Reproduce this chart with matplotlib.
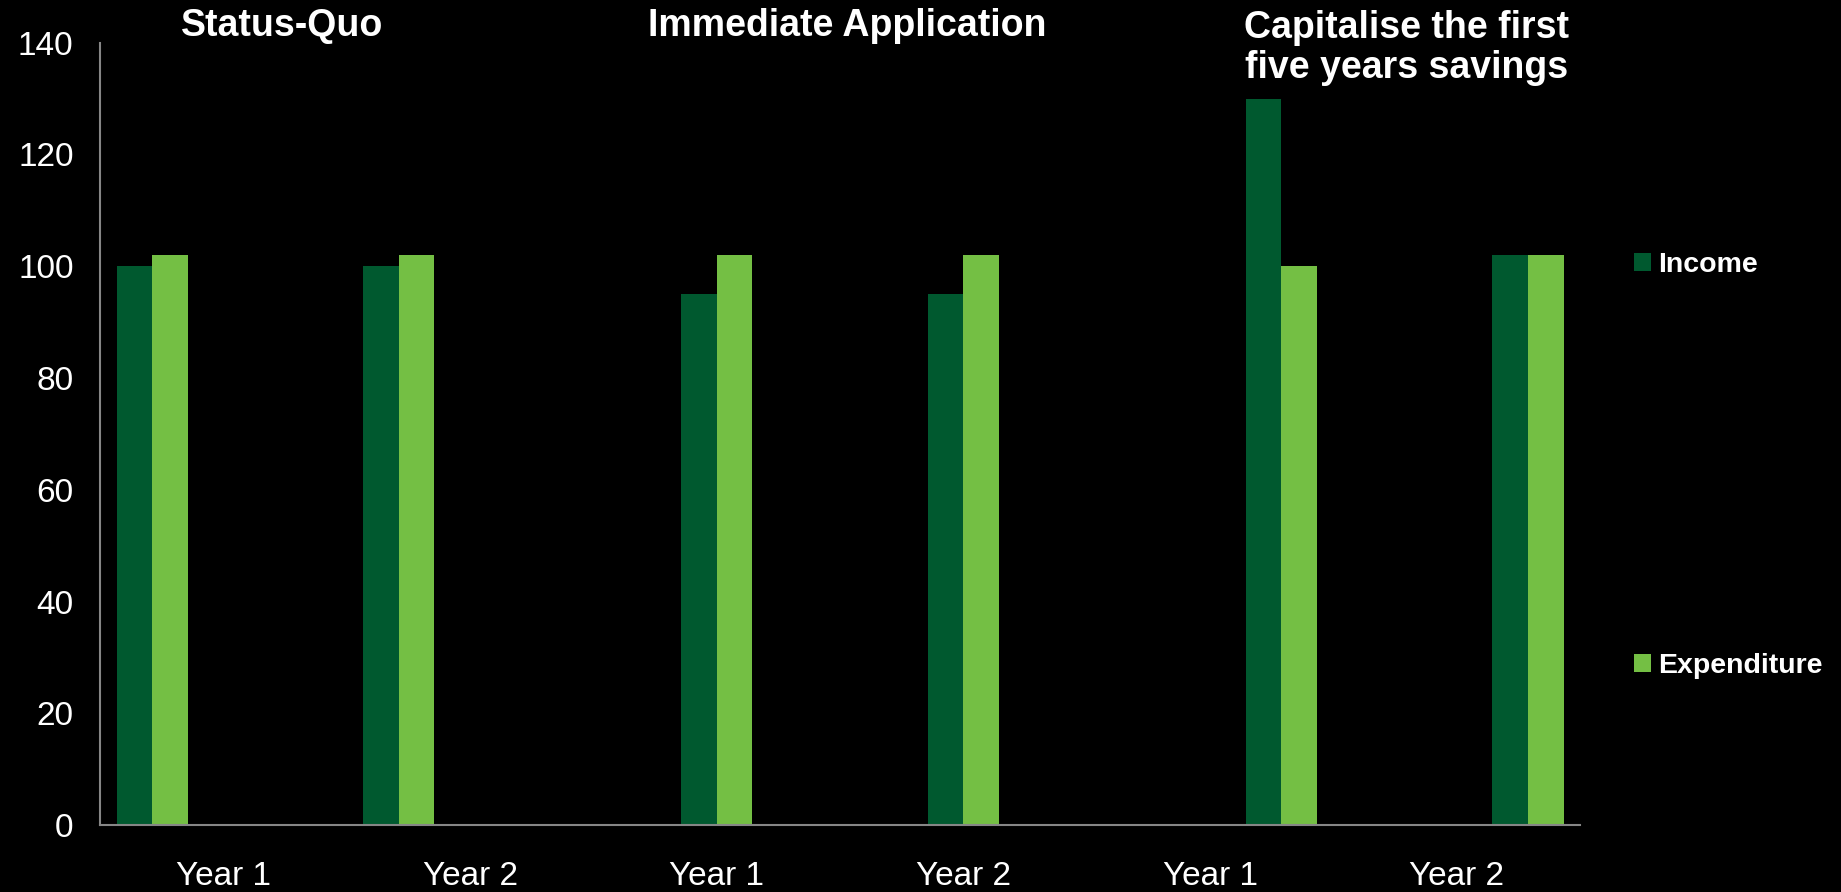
import numpy as np
import matplotlib
matplotlib.use('Agg')
import matplotlib.pyplot as plt

# data
categories = ['Year 1', 'Year 2', 'Year 1', 'Year 2', 'Year 1', 'Year 2']
income = [100, 100, 95, 95, 130, 102]
expenditure = [102, 102, 102, 102, 100, 102]
slot = [0, 0, 2, 2, 4, 4]      # which series slot each category uses (6 slots per category)
sections = ['Status-Quo', 'Immediate Application', 'Capitalise the first\nfive years savings']
yticks = [0, 20, 40, 60, 80, 100, 120, 140]

plt.rcParams['font.family'] = ['Liberation Sans', 'DejaVu Sans']

c_inc = '#00592F'
c_exp = '#74BF44'
c_axis = '#868686'

fig = plt.figure(figsize=(18.41, 8.92), dpi=100, facecolor='black')
ax = fig.add_axes([0.0543, 0.0751, 0.8040, 0.8770], facecolor='black')

n = len(categories)
w = 0.1443                      # bar width, 6 slots per category
gap = (1 - 6 * w) / 2
x = np.arange(n)
left = x - 0.5 + gap + np.array(slot) * w
ax.bar(left, income, width=w, align='edge', color=c_inc, label='Income')
ax.bar(left + w, expenditure, width=w, align='edge', color=c_exp, label='Expenditure')

ax.set_xlim(-0.5, n - 0.5)
ax.set_ylim(0, 140)
ax.set_yticks(yticks)
ax.set_xticks(x)
ax.set_xticklabels(categories)
ax.tick_params(axis='both', length=0, colors='white', labelsize=24)
ax.tick_params(axis='y', pad=19)
ax.tick_params(axis='x', pad=26)
for s in ['top', 'right']:
    ax.spines[s].set_visible(False)
for s in ['left', 'bottom']:
    ax.spines[s].set_color(c_axis)
    ax.spines[s].set_linewidth(1.5)

# section titles above the groups
fig.text(282 / 1841, 1 - 26 / 892, sections[0], color='white', fontsize=27, fontweight='bold', ha='center', va='center')
fig.text(847 / 1841, 1 - 26 / 892, sections[1], color='white', fontsize=27, fontweight='bold', ha='center', va='center')
fig.text(1407 / 1841, 1 - 48 / 892, sections[2], color='white', fontsize=27, fontweight='bold', ha='center', va='center',
         linespacing=1.17)

leg = ax.legend(loc='upper left', bbox_to_anchor=(1634 / 1841, 1 - 252 / 892), bbox_transform=fig.transFigure,
                frameon=False, fontsize=20.5, labelspacing=13.17, handlelength=0.6, handleheight=0.6,
                handletextpad=0.25, borderpad=0, borderaxespad=0)
for t in leg.get_texts():
    t.set_color('white')
    t.set_fontweight('bold')

fig.savefig('out.png', dpi=100, facecolor='black')
